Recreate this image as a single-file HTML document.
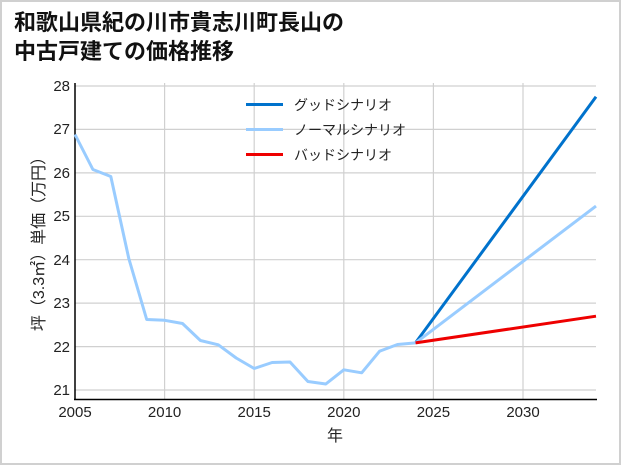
<!DOCTYPE html>
<html><head><meta charset="utf-8"><style>
html,body{margin:0;padding:0;background:#fff}
svg{display:block}
text{font-family:"Liberation Sans","Noto Sans CJK JP",sans-serif}
</style></head><body>
<svg width="621" height="465" viewBox="0 0 621 465" xmlns="http://www.w3.org/2000/svg">
<rect x="1" y="1" width="619" height="463" fill="#fff" stroke="#d0d0d0" stroke-width="2"/>
<text x="14" y="30" font-size="22" font-weight="bold" fill="#111">和歌山県紀の川市貴志川町長山の</text>
<text x="14" y="59" font-size="22" font-weight="bold" fill="#111">中古戸建ての価格推移</text>
<g stroke="#d0d0d0" stroke-width="1.2">
<line x1="164.6" y1="83" x2="164.6" y2="399"/><line x1="254.2" y1="83" x2="254.2" y2="399"/>
<line x1="343.8" y1="83" x2="343.8" y2="399"/><line x1="433.4" y1="83" x2="433.4" y2="399"/>
<line x1="523" y1="83" x2="523" y2="399"/>
<line x1="75" y1="86" x2="596" y2="86"/><line x1="75" y1="129.4" x2="596" y2="129.4"/>
<line x1="75" y1="172.9" x2="596" y2="172.9"/><line x1="75" y1="216.3" x2="596" y2="216.3"/>
<line x1="75" y1="259.7" x2="596" y2="259.7"/><line x1="75" y1="303.1" x2="596" y2="303.1"/>
<line x1="75" y1="346.6" x2="596" y2="346.6"/><line x1="75" y1="390" x2="596" y2="390"/>
</g>
<line x1="75" y1="83" x2="75" y2="400" stroke="#000" stroke-width="1.5"/>
<line x1="74" y1="399.5" x2="597" y2="399.5" stroke="#000" stroke-width="1.5"/>
<g font-size="15" fill="#222" text-anchor="end">
<text x="70" y="91">28</text><text x="70" y="134">27</text><text x="70" y="178">26</text>
<text x="70" y="221">25</text><text x="70" y="265">24</text><text x="70" y="308">23</text>
<text x="70" y="352">22</text><text x="70" y="395">21</text>
</g>
<g font-size="15" fill="#222" text-anchor="middle">
<text x="75" y="417">2005</text><text x="164.6" y="417">2010</text><text x="254.2" y="417">2015</text>
<text x="343.8" y="417">2020</text><text x="433.4" y="417">2025</text><text x="523" y="417">2030</text>
<text x="335" y="441" font-size="16">年</text>
</g>
<text transform="translate(44,240) rotate(-90)" font-size="16" fill="#222" text-anchor="middle">坪（3.3㎡）単価（万円）</text>
<g fill="none" stroke-width="3" stroke-linejoin="round">
<polyline stroke="#0072cc" points="415.5,342.9 596,96.8"/>
<polyline stroke="#99ccff" points="415.5,342.9 596,206.1"/>
<polyline stroke="#ee0000" points="415.5,342.9 596,316.2"/>
<polyline stroke="#99ccff" points="75,134.5 92.9,169.5 110.8,176.5 128.8,258.5 146.7,319.5 164.6,320.3 182.5,323.5 200.4,340.5 218.3,344.8 236.2,358 254.2,368.5 272.1,362.5 290,362 307.9,381.5 325.8,384 343.8,369.8 361.7,372.8 379.6,351.2 397.5,344.5 415.5,342.9"/>
</g>
<g font-size="14" fill="#222">
<line x1="246" y1="104.5" x2="283" y2="104.5" stroke="#0072cc" stroke-width="3"/>
<text x="294" y="110">グッドシナリオ</text>
<line x1="246" y1="129.5" x2="283" y2="129.5" stroke="#99ccff" stroke-width="3"/>
<text x="294" y="135">ノーマルシナリオ</text>
<line x1="246" y1="154.5" x2="283" y2="154.5" stroke="#ee0000" stroke-width="3"/>
<text x="294" y="160">バッドシナリオ</text>
</g>
</svg>
</body></html>
